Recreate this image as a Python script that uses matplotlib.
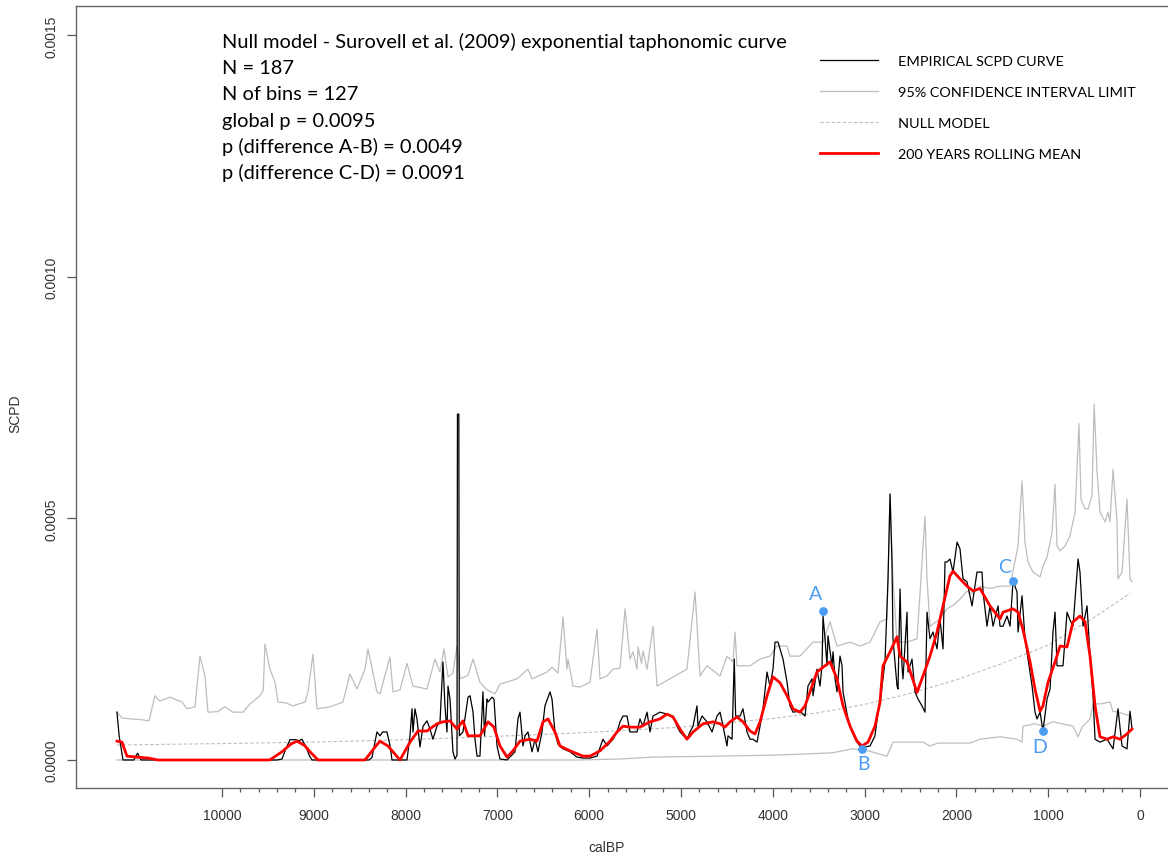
import matplotlib
matplotlib.use('Agg')
import matplotlib.pyplot as plt
import numpy as np

# values, SCPD in units of 1e-4
upper_bp = [11144, 11089, 11000, 10900, 10795, 10730, 10680, 10566, 10436, 10381, 10294, 10240, 10185, 10153,
            10050, 9967, 9880, 9771, 9695, 9586, 9550, 9532, 9477, 9423, 9390, 9300, 9227, 9096, 9063, 9009,
            8965, 8824, 8682, 8606, 8529, 8442, 8410, 8312, 8279, 8170, 8137, 8061, 7985, 7919, 7767, 7680,
            7625, 7582, 7538, 7484, 7440, 7407, 7320, 7266, 7190, 7113, 7026, 6972, 6786, 6667, 6623, 6460,
            6405, 6340, 6285, 6242, 6231, 6176, 6100, 5991, 5915, 5882, 5806, 5741, 5664, 5610, 5556, 5523,
            5479, 5468, 5430, 5414, 5370, 5305, 5261, 5120, 4935, 4847, 4793, 4717, 4575, 4499, 4434, 4412,
            4390, 4248, 4139, 4031, 3954, 3845, 3813, 3704, 3562, 3453, 3377, 3301, 3159, 3050, 2941, 2832,
            2756, 2723, 2691, 2647, 2538, 2429, 2342, 2320, 2288, 2179, 2102, 2037, 1961, 1885, 1819, 1743,
            1634, 1525, 1416, 1372, 1329, 1285, 1253, 1220, 1166, 1089, 1057, 1013, 959, 926, 904, 871, 817,
            763, 708, 665, 643, 600, 566, 523, 500, 468, 436, 381, 349, 327, 294, 251, 240, 196, 142, 109, 87]
upper_e4 = [0.99, 0.87, 0.85, 0.84, 0.81, 1.33, 1.22, 1.30, 1.20, 1.06, 1.10, 2.15, 1.74, 0.99,
            1.00, 1.10, 0.99, 0.99, 1.16, 1.33, 1.45, 2.40, 1.88, 1.61, 1.20, 1.18, 1.12, 1.20, 1.41, 2.19,
            1.06, 1.10, 1.20, 1.78, 1.47, 1.88, 2.30, 1.41, 1.37, 2.13, 1.41, 1.45, 2.00, 1.53, 1.47, 2.09,
            1.82, 2.30, 1.72, 1.80, 2.36, 1.68, 1.75, 2.09, 1.61, 1.45, 1.37, 1.57, 1.68, 1.88, 1.68, 1.82,
            1.92, 1.80, 2.96, 1.88, 2.09, 1.53, 1.51, 1.61, 2.71, 1.68, 1.74, 1.88, 1.90, 3.13, 2.09, 2.24,
            1.88, 2.34, 2.00, 2.26, 1.88, 2.77, 1.53, 1.68, 1.88, 3.48, 1.74, 1.95, 1.74, 2.15, 2.03, 2.65,
            1.95, 1.95, 2.09, 2.15, 2.36, 2.36, 2.15, 2.15, 2.44, 2.44, 2.86, 2.36, 2.44, 2.36, 2.44, 2.86,
            2.92, 5.47, 3.75, 2.44, 2.44, 2.51, 5.05, 3.75, 2.77, 2.92, 3.13, 3.20, 3.33, 3.50, 3.44, 3.60,
            3.55, 3.60, 3.60, 4.02, 4.43, 5.78, 4.50, 4.10, 3.89, 3.79, 4.02, 4.20, 4.70, 5.71, 4.43, 4.33, 4.43,
            4.64, 5.13, 6.96, 5.40, 5.20, 5.20, 5.47, 7.37, 5.96, 5.13, 4.93, 5.13, 4.93, 6.02, 4.93, 3.75, 3.89,
            5.40, 3.75, 3.69]

lower_bp = [11144, 6100, 5664, 5305, 4575, 4000, 3704, 3344, 3137, 2980, 2756, 2691, 2364, 2288, 2200,
            1852, 1743, 1525, 1340, 1285, 1275, 1144, 1057, 948, 730, 675, 632, 545, 512, 436, 327, 294,
            251, 109]
lower_e4 = [0.0, 0.0, 0.02, 0.06, 0.08, 0.10, 0.12, 0.15, 0.23, 0.20, 0.08, 0.37, 0.37, 0.29, 0.35,
            0.35, 0.43, 0.48, 0.43, 0.37, 0.70, 0.75, 0.70, 0.79, 0.70, 0.48, 0.68, 0.85, 1.16, 1.16, 1.20, 1.00,
            1.00, 0.91]

null_bp = [11144, 10000, 9000, 8000, 7000, 6000, 5000, 4000, 3500, 3000, 2500, 2000, 1500, 1000, 500, 109]
null_e4 = [0.31, 0.34, 0.37, 0.42, 0.49, 0.57, 0.68, 0.86, 0.98, 1.15, 1.38, 1.66, 2.00, 2.38, 2.95, 3.45]

emp_bp = [11144, 11120, 11078, 10960, 10920, 10880, 9400, 9346, 9300, 9259, 9200, 9160, 9129, 9080, 9050,
          9020, 8400, 8366, 8330, 8312, 8279, 8250, 8203, 8170, 8148, 7985, 7952, 7930, 7919, 7898, 7876,
          7843, 7810, 7767, 7734, 7702, 7658, 7625, 7593, 7571, 7549, 7538, 7516, 7484, 7462, 7440, 7435,
          7420, 7415, 7375, 7320, 7298, 7266, 7244, 7222, 7190, 7157, 7140, 7113, 7102, 7059, 7037, 7004,
          6972, 6895, 6808, 6776, 6754, 6721, 6699, 6667, 6623, 6590, 6558, 6514, 6482, 6427, 6405, 6373,
          6340, 6285, 6209, 6133, 6068, 5991, 5915, 5850, 5806, 5741, 5697, 5664, 5632, 5588, 5556, 5479,
          5447, 5414, 5370, 5338, 5305, 5229, 5153, 5087, 5044, 5011, 4935, 4902, 4869, 4826, 4815, 4771,
          4717, 4662, 4608, 4575, 4542, 4499, 4488, 4444, 4420, 4405, 4357, 4325, 4281, 4248, 4216, 4172,
          4139, 4107, 4063, 4031, 3998, 3976, 3943, 3922, 3889, 3845, 3813, 3780, 3704, 3649, 3617, 3573,
          3562, 3519, 3486, 3464, 3453, 3431, 3410, 3399, 3355, 3344, 3322, 3301, 3268, 3246, 3235, 3181,
          3137, 3083, 3050, 2996, 2941, 2887, 2854, 2810, 2778, 2745, 2723, 2702, 2691, 2647, 2636, 2614,
          2593, 2582, 2538, 2527, 2484, 2451, 2418, 2375, 2342, 2320, 2288, 2255, 2211, 2179, 2146, 2124,
          2102, 2070, 2037, 1993, 1961, 1928, 1885, 1830, 1776, 1721, 1710, 1667, 1634, 1601, 1547, 1525,
          1492, 1449, 1416, 1383, 1340, 1329, 1285, 1253, 1220, 1176, 1144, 1122, 1089, 1057, 1013, 980,
          948, 926, 904, 839, 795, 763, 730, 675, 654, 621, 577, 545, 512, 490, 436, 359, 294, 240, 196,
          142, 109, 87]
emp_e4 = [0.99, 0.50, 0.0, 0.0, 0.14, 0.0, 0.0, 0.02, 0.25, 0.42, 0.42, 0.40, 0.43, 0.25, 0.10,
          0.0, 0.0, 0.05, 0.40, 0.58, 0.50, 0.58, 0.58, 0.30, 0.0, 0.0, 0.50, 1.06, 0.58, 1.06, 0.85,
          0.27, 0.70, 0.81, 0.64, 0.43, 0.70, 0.79, 2.03, 1.12, 0.58, 1.53, 1.26, 0.17, 0.02, 0.10, 7.16,
          7.16, 0.50, 0.58, 1.30, 1.33, 1.00, 0.43, 0.08, 0.08, 1.41, 0.50, 1.26, 1.20, 1.30, 1.26, 0.29,
          0.02, 0.0, 0.17, 0.85, 0.99, 0.29, 0.50, 0.58, 0.17, 0.43, 0.17, 0.58, 1.12, 1.41, 1.26, 0.58,
          0.33, 0.23, 0.17, 0.06, 0.04, 0.04, 0.08, 0.43, 0.29, 0.43, 0.58, 0.79, 0.91, 0.91, 0.58, 0.58,
          0.85, 0.70, 0.99, 0.58, 0.91, 0.99, 0.95, 0.91, 0.70, 0.58, 0.43, 0.58, 0.70, 1.12, 0.70, 0.91,
          0.79, 0.58, 0.91, 0.99, 0.70, 0.29, 0.50, 0.43, 2.09, 0.91, 0.91, 1.06, 0.58, 0.43, 0.43, 0.37,
          0.70, 1.06, 1.82, 1.53, 1.88, 2.44, 2.44, 2.30, 2.09, 1.61, 1.12, 0.99, 1.01, 0.91, 1.53, 1.68,
          1.33, 1.88, 1.53, 1.95, 2.98, 2.51, 1.95, 2.57, 1.95, 2.24, 1.68, 1.41, 2.15, 1.95, 1.41, 0.85,
          0.58, 0.37, 0.29, 0.27, 0.29, 0.50, 0.99, 1.53, 2.03, 3.75, 5.51, 4.10, 2.51, 1.53, 1.47, 3.54,
          1.95, 1.68, 3.06, 1.82, 2.09, 1.41, 1.26, 1.12, 0.99, 3.06, 2.51, 2.65, 2.30, 2.92, 2.30, 4.10,
          4.10, 4.16, 3.89, 4.51, 4.37, 3.75, 3.69, 3.19, 3.89, 3.89, 3.48, 2.77, 3.19, 2.77, 3.19, 2.77,
          2.77, 2.98, 2.77, 3.71, 3.48, 2.65, 3.40, 2.51, 2.09, 1.53, 0.99, 0.85, 0.99, 0.60, 1.26, 1.47,
          2.65, 3.06, 1.95, 1.95, 3.06, 2.90, 2.77, 4.16, 3.89, 2.77, 3.19, 2.15, 1.33, 0.43, 0.37, 0.43, 0.23,
          1.06, 0.29, 0.23, 1.01, 0.64]

mean_bp = [11144, 11089, 11035, 10926, 10800, 10700, 9480, 9346, 9250, 9183, 9100, 9041, 8954, 8442, 8340,
           8279, 8192, 8061, 7952, 7865, 7767, 7658, 7593, 7516, 7440, 7375, 7320, 7190, 7102, 7037, 6972,
           6895, 6830, 6754, 6645, 6569, 6503, 6449, 6373, 6318, 6209, 6068, 5991, 5882, 5773, 5697, 5632,
           5556, 5447, 5338, 5229, 5153, 5087, 5011, 4935, 4869, 4760, 4651, 4575, 4521, 4466, 4390, 4325,
           4248, 4194, 4139, 4063, 3998, 3922, 3845, 3780, 3704, 3649, 3595, 3519, 3453, 3377, 3301, 3235,
           3159, 3083, 3028, 2963, 2887, 2832, 2800, 2723, 2647, 2614, 2538, 2429, 2364, 2288, 2211, 2146,
           2070, 2037, 1961, 1885, 1819, 1743, 1710, 1634, 1525, 1492, 1383, 1329, 1275, 1198, 1144, 1089,
           1057, 1002, 926, 871, 795, 730, 654, 599, 545, 490, 436, 359, 294, 218, 142, 87]
mean_e4 = [0.39, 0.37, 0.08, 0.06, 0.04, 0.0, 0.0, 0.17, 0.33, 0.39, 0.30, 0.17, 0.0, 0.0, 0.25,
           0.39, 0.29, 0.0, 0.37, 0.60, 0.60, 0.75, 0.79, 0.81, 0.64, 0.81, 0.50, 0.50, 0.79, 0.68, 0.29,
           0.06, 0.19, 0.39, 0.43, 0.39, 0.79, 0.85, 0.58, 0.29, 0.19, 0.08, 0.08, 0.19, 0.39, 0.58, 0.70,
           0.68, 0.68, 0.79, 0.85, 0.95, 0.89, 0.64, 0.43, 0.58, 0.75, 0.79, 0.75, 0.68, 0.79, 0.89, 0.79,
           0.60, 0.54, 0.79, 1.33, 1.72, 1.60, 1.33, 1.06, 0.99, 1.12, 1.41, 1.82, 1.92, 2.03, 1.68, 1.12,
           0.70, 0.39, 0.29, 0.37, 0.70, 1.20, 1.95, 2.24, 2.55, 2.15, 2.03, 1.40, 1.74, 2.15, 2.65, 3.19,
           3.81, 3.91, 3.75, 3.60, 3.50, 3.55, 3.44, 3.19, 2.92, 3.06, 3.13, 3.06, 2.70, 2.03, 1.47, 1.01,
           1.12, 1.61, 2.03, 2.36, 2.34, 2.86, 2.98, 2.86, 2.15, 1.12, 0.48, 0.43, 0.48, 0.43, 0.54, 0.64]

point_names = ['A', 'B', 'C', 'D']
point_bp = [3453, 3028, 1383, 1057]
point_e4 = [3.08, 0.23, 3.71, 0.60]

info_lines = ['Null model - Surovell et al. (2009) exponential taphonomic curve',
              'N = 187', 'N of bins = 127', 'global p = 0.0095',
              'p (difference A-B) = 0.0049', 'p (difference C-D) = 0.0091']

W, H = 1168, 862
fig = plt.figure(figsize=(W / 100, H / 100), dpi=100)
ax = fig.add_axes([76 / W, 1 - 789 / H, 1098 / W, (789 - 7) / H])

s = 1e-4
ax.plot(upper_bp, np.array(upper_e4) * s, color='#bdbdbd', lw=0.9, label='95% CONFIDENCE INTERVAL LIMIT')
ax.plot(lower_bp, np.array(lower_e4) * s, color='#bdbdbd', lw=0.9)
ax.plot(null_bp, np.array(null_e4) * s, color='#bdbdbd', lw=0.8, ls=(0, (3, 2)), label='NULL MODEL')
ax.plot(emp_bp, np.array(emp_e4) * s, color='black', lw=0.9, label='EMPIRICAL SCPD CURVE')
ax.plot(mean_bp, np.array(mean_e4) * s, color='#ff0000', lw=2.0, label='200 YEARS ROLLING MEAN')

blue = '#4b9cf2'
ax.scatter(point_bp, np.array(point_e4) * s, s=28, color=blue, zorder=5)
lab_off = {'A': (76, 0.36), 'B': (-11, -0.31), 'C': (88, 0.29), 'D': (33, -0.33)}
for n, bp, v in zip(point_names, point_bp, point_e4):
    dx, dy = lab_off[n]
    ax.text(bp + dx, (v + dy) * s, n, color=blue, fontsize=14, family='Lato', ha='center', va='center')

ax.set_xlim(11590, -370)
ax.set_ylim(-0.58e-4, 15.61e-4)
ax.set_xticks(np.arange(0, 10001, 1000))
ax.set_xticklabels([str(t) for t in range(0, 10001, 1000)])
ax.set_xticks(np.arange(0, 10001, 200), minor=True)
ax.set_yticks([0, 0.0005, 0.0010, 0.0015])
ax.set_yticklabels(['0.0000', '0.0005', '0.0010', '0.0015'], rotation=90, va='center')

tick_font = dict(family='Liberation Sans', size=10)
for lab in ax.get_xticklabels() + ax.get_yticklabels():
    lab.set_fontfamily('Liberation Sans')
    lab.set_fontsize(10)
    lab.set_color('#333333')
ax.tick_params(axis='x', which='major', length=6.5, width=0.9, color='#555555', pad=8)
ax.tick_params(axis='x', which='minor', length=3, width=0.9, color='#555555')
ax.tick_params(axis='y', length=6.5, width=0.9, color='#555555', pad=6)
for sp in ['left', 'bottom', 'top']:
    ax.spines[sp].set_color('#666666')
    ax.spines[sp].set_linewidth(1.0)
ax.spines['right'].set_visible(False)

fig.text(607 / W, 1 - 848 / H, 'calBP', ha='center', va='center', color='#333333', **tick_font)
fig.text(15 / W, 1 - 414 / H, 'SCPD', ha='center', va='center', rotation=90, color='#333333', **tick_font)

line_y = [42, 68, 95, 121, 147, 173]
for t, yy in zip(info_lines, line_y):
    fig.text(222 / W, 1 - yy / H, t, ha='left', va='center', fontsize=14.4, family='Lato', color='black')

h, l = ax.get_legend_handles_labels()
order = [2, 0, 1, 3]
ax.legend([h[i] for i in order], [l[i] for i in order], loc='upper left',
          bbox_to_anchor=(807 / W, 1 - 43 / H), bbox_transform=fig.transFigure, frameon=False,
          prop=dict(family='Lato', size=10.4), handlelength=4.0, handletextpad=1.4, labelspacing=1.3)

fig.savefig('out.png', dpi=100)
